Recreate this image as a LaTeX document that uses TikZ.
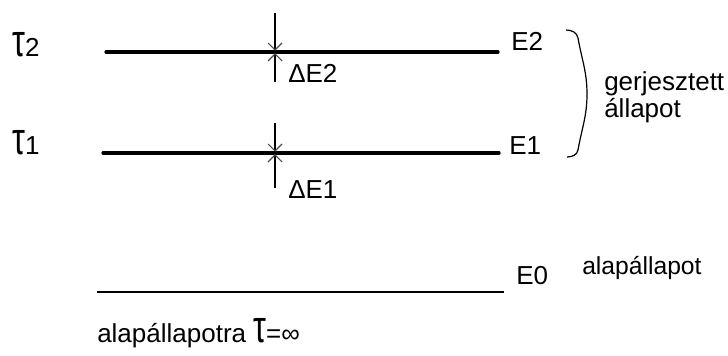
\documentclass[tikz,border=0pt]{standalone}
\usepackage{fontspec}
\usetikzlibrary{calc}
\setmainfont{Liberation Sans}
\newcommand{\tauglyph}{\scalebox{1.25}[1.75]{τ}}
\begin{document}
\begin{tikzpicture}[x=0.75pt,y=-0.75pt,
  level/.style={line width=2.4pt, line cap=round},
  ground/.style={line width=1.4pt},
  vline/.style={line width=1.3pt},
  tick/.style={line width=0.8pt, black!70},
  lbl/.style={font=\fontsize{19.5}{22}\selectfont, inner sep=0pt},
  slbl/.style={font=\fontsize{18.5}{22}\selectfont, inner sep=0pt}]
\useasboundingbox (0,0) rectangle (728,356);
% levels
\coordinate (l2a) at (106,52); \coordinate (l2b) at (498,52);
\coordinate (l1a) at (103,153); \coordinate (l1b) at (499,153);
\coordinate (l0a) at (97,292); \coordinate (l0b) at (504,292);
\draw[level] (l2a) -- (l2b);
\draw[level] (l1a) -- (l1b);
\draw[ground] (l0a) -- (l0b);
% vertical markers
\coordinate (v2t) at (275,13); \coordinate (v2b) at (275,82);
\coordinate (v1t) at (275,123); \coordinate (v1b) at (275,188);
\coordinate (x2) at (275,52); \coordinate (x1) at (275,153);
\draw[vline] (v2t) -- (v2b);
\draw[vline] (v1t) -- (v1b);
\fill (x2) circle (2.3);
\fill (x1) circle (2.3);
\draw[tick] ($(x2)+(-7,-9)$) -- ($(x2)+(0,-2)$) -- ($(x2)+(7,-9)$);
\draw[tick] ($(x2)+(-7,9)$) -- ($(x2)+(0,2)$) -- ($(x2)+(7,9)$);
\draw[tick] ($(x1)+(-7,-9)$) -- ($(x1)+(0,-2)$) -- ($(x1)+(7,-9)$);
\draw[tick] ($(x1)+(-7,9)$) -- ($(x1)+(0,2)$) -- ($(x1)+(7,9)$);
% labels
\node[lbl, anchor=base west] (t2) at (12,57) {\tauglyph2};
\node[lbl, anchor=base west] (t1) at (12,155) {\tauglyph1};
\node[lbl, anchor=base west] (E2) at (511,51) {E2};
\node[lbl, anchor=base west] (E1) at (509,155) {E1};
\node[lbl, anchor=base west] (E0) at (516,284) {E0};
\node[lbl, anchor=base west] (dE2) at (288,83) {ΔE2};
\node[lbl, anchor=base west] (dE1) at (288,199) {ΔE1};
% brace
\draw[line width=0.9pt] (566,30) to[out=0,in=100] (578,38) to[out=-80,in=90] (587,94)
  to[out=-90,in=80] (578,150) to[out=-100,in=0] (567,157);
\node[lbl, anchor=base west] (ger) at (604,91) {gerjesztett};
\node[lbl, anchor=base west] (all) at (604,118) {állapot};
\node[slbl, anchor=base west] (alap) at (582,274) {alapállapot};
\node[lbl, anchor=base west] (bot) at (97,342) {alapállapotra \tauglyph=∞};
\end{tikzpicture}
\end{document}
